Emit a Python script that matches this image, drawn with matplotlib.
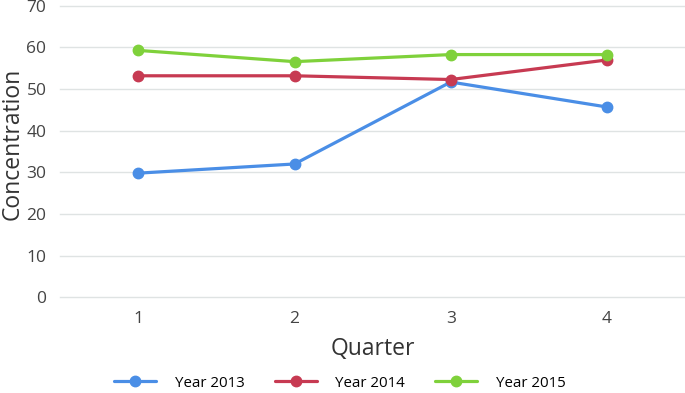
import matplotlib.pyplot as plt

quarters = [1, 2, 3, 4]
year_2013 = [29.8, 32.0, 51.7, 45.7]
year_2014 = [53.2, 53.2, 52.3, 57.0]
year_2015 = [59.3, 56.6, 58.3, 58.3]
labels = ['Year 2013', 'Year 2014', 'Year 2015']
colors = ['#4a8ee6', '#c73a52', '#7fd13b']

plt.rcParams['font.family'] = ['Open Sans', 'DejaVu Sans']

fig = plt.figure(figsize=(6.85, 3.93), dpi=100)
ax = fig.add_axes([0.088, 0.244, 0.912, 0.741])

for ys, lab, c in zip([year_2013, year_2014, year_2015], labels, colors):
    ax.plot(quarters, ys, color=c, lw=2.3, marker='o', ms=7.5, label=lab,
            solid_capstyle='round', clip_on=False)

ax.set_xlim(0.5, 4.5)
ax.set_ylim(0, 70)
ax.set_xticks(quarters)
ax.set_yticks(range(0, 71, 10))
ax.grid(axis='y', color='#dfe3e3', lw=1)
for gl in ax.get_ygridlines():
    gl.set_clip_on(False)
ax.set_axisbelow(True)
for s in ax.spines.values():
    s.set_visible(False)
ax.tick_params(length=0, colors='#444444', labelsize=12.5)
ax.tick_params(axis='x', pad=10)
ax.tick_params(axis='y', pad=10)

ax.set_xlabel('Quarter', fontsize=16.5, color='#333333', labelpad=7)
ax.set_ylabel('Concentration', fontsize=16.5, color='#333333')
ax.yaxis.set_label_coords(-0.057, 0.525)

handles, labs = ax.get_legend_handles_labels()
fig.legend(handles, labs, loc='center', bbox_to_anchor=(0.496, 0.025), ncol=3,
           frameon=False, fontsize=10.8, handlelength=2.8, columnspacing=2.0,
           handletextpad=1.25)

fig.savefig('out.png', dpi=100)
